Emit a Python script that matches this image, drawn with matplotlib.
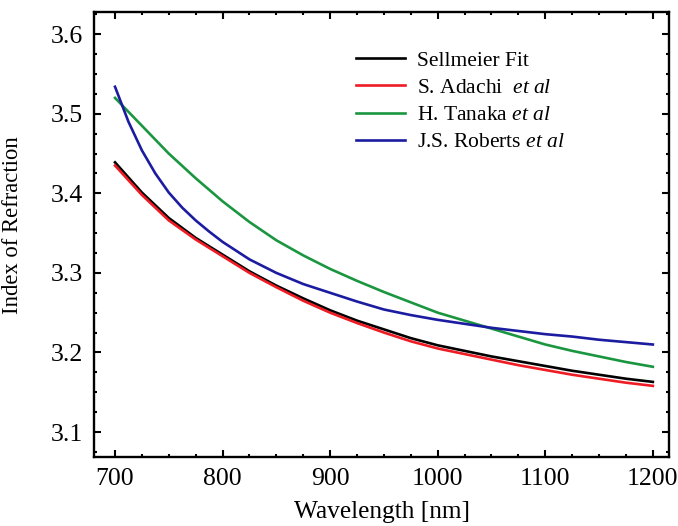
import matplotlib
matplotlib.use("Agg")
import matplotlib.pyplot as plt
from matplotlib.ticker import MultipleLocator

plt.rcParams["font.family"] = ["Liberation Serif", "DejaVu Serif"]
plt.rcParams["mathtext.fontset"] = "custom"
plt.rcParams["mathtext.rm"] = "Liberation Serif"
plt.rcParams["mathtext.it"] = "Liberation Serif:italic"

# valori (lungime de unda in nm, indice de refractie)
wl = [700, 725, 750, 775, 800, 825, 850, 875, 900, 925, 950, 975, 1000,
      1025, 1050, 1075, 1100, 1125, 1150, 1175, 1200]
sellmeier = [3.439, 3.401, 3.369, 3.344, 3.323, 3.302, 3.284, 3.268, 3.253,
             3.240, 3.229, 3.218, 3.209, 3.202, 3.195, 3.189, 3.183, 3.177,
             3.172, 3.167, 3.163]
adachi = [3.435, 3.398, 3.366, 3.342, 3.321, 3.300, 3.282, 3.265, 3.250,
          3.237, 3.225, 3.214, 3.205, 3.198, 3.191, 3.184, 3.178, 3.172,
          3.167, 3.162, 3.158]
tanaka = [3.520, 3.485, 3.450, 3.419, 3.390, 3.364, 3.341, 3.322, 3.305,
          3.290, 3.276, 3.263, 3.250, 3.240, 3.230, 3.220, 3.210, 3.202,
          3.195, 3.188, 3.182]
wl_rob = [700, 712.5, 725, 737.5, 750, 762.5, 775, 787.5, 800, 825, 850, 875,
          900, 925, 950, 975, 1000, 1025, 1050, 1075, 1100, 1125, 1150, 1175,
          1200]
roberts = [3.534, 3.490, 3.454, 3.425, 3.401, 3.382, 3.366, 3.352, 3.339,
           3.317, 3.300, 3.286, 3.275, 3.264, 3.254, 3.247, 3.241, 3.236,
           3.231, 3.227, 3.223, 3.220, 3.216, 3.213, 3.210]

series = [
    (wl, sellmeier, "#000000", "Sellmeier Fit"),
    (wl, adachi, "#ee1c24", r"S. Adachi  $et\ al$"),
    (wl, tanaka, "#1b9640", r"H. Tanaka $et\ al$"),
    (wl_rob, roberts, "#1c1ca0", r"J.S. Roberts $et\ al$"),
]

fig = plt.figure(figsize=(6.78, 5.26), dpi=100)
ax = fig.add_axes([0.1387, 0.1312, 0.848, 0.846])
for x, y, c, lab in series:
    ax.plot(x, y, color=c, lw=1.9, label=lab, solid_joinstyle="round")

ax.set_xlim(680.5, 1215)
ax.set_ylim(3.0686, 3.628)
ax.xaxis.set_major_locator(MultipleLocator(100))
ax.xaxis.set_minor_locator(MultipleLocator(25))
ax.yaxis.set_major_locator(MultipleLocator(0.1))
ax.yaxis.set_minor_locator(MultipleLocator(0.025))
ax.tick_params(which="both", direction="in", top=True, right=True, width=1.5,
               labelsize=18.5, color="black")
ax.tick_params(which="major", length=5, pad=8)
ax.tick_params(which="minor", length=2.5)
for s in ax.spines.values():
    s.set_linewidth(1.7)

ax.set_xlabel("Wavelength [nm]", fontsize=18.3, labelpad=8)
ax.set_ylabel("Index of Refraction", fontsize=16.3)
ax.yaxis.set_label_coords(-0.123, 0.52)

ax.legend(loc="upper left", bbox_to_anchor=(0.455, 0.913), frameon=False,
          fontsize=15.5, handlelength=2.3, handletextpad=0.55,
          labelspacing=0.33, borderpad=0, borderaxespad=0)

fig.savefig("out.png", dpi=100)
